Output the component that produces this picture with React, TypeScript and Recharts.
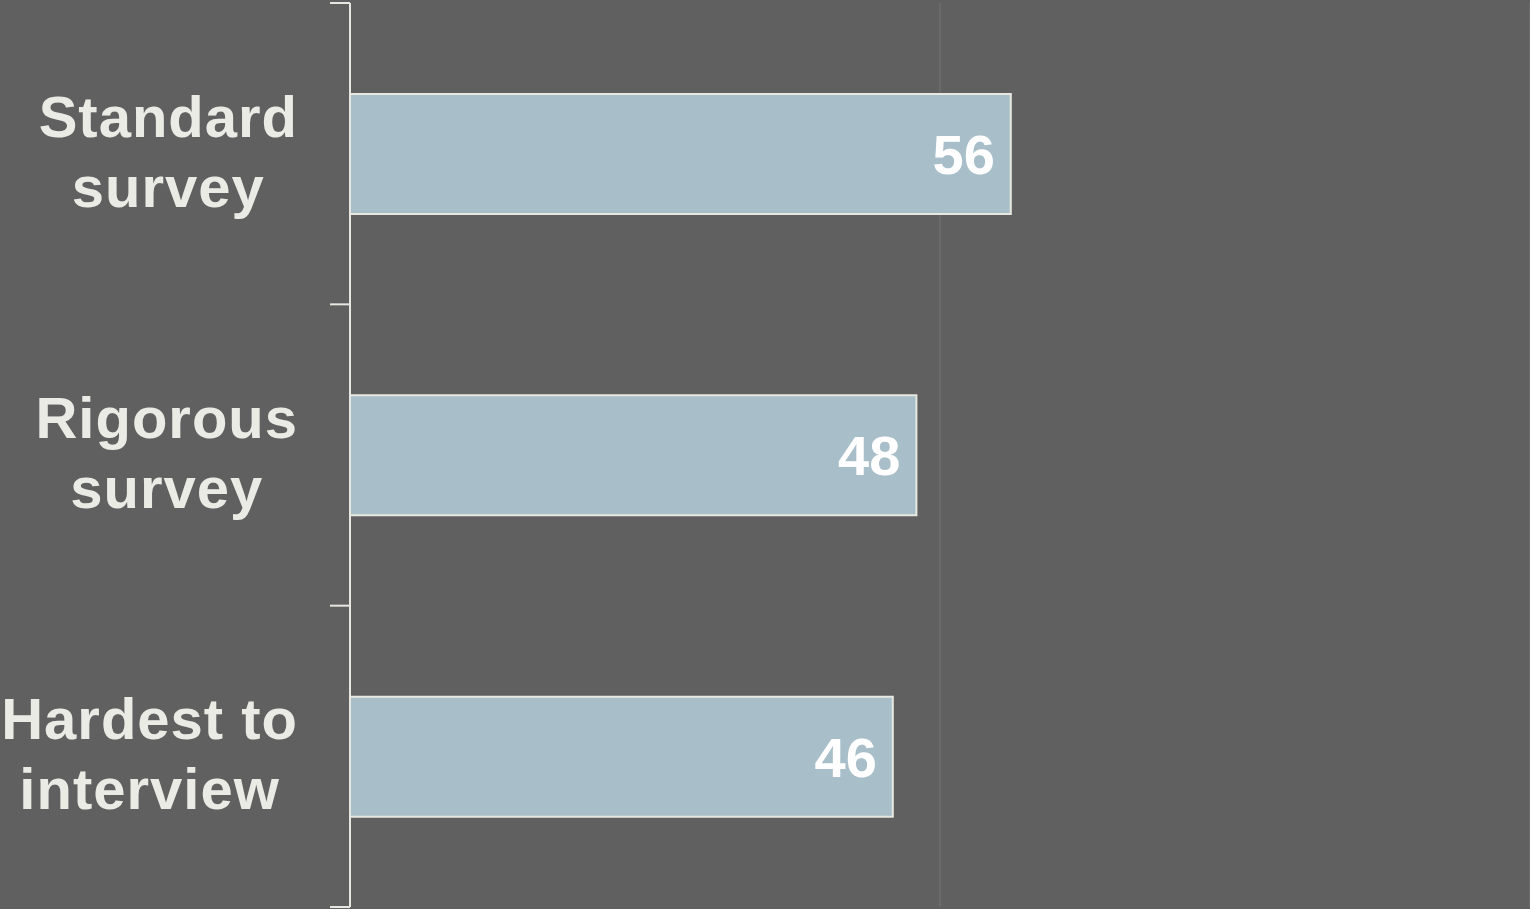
import React from 'react';
import { BarChart, Bar, XAxis, YAxis, CartesianGrid, LabelList } from 'recharts';

const categories = ['Standard survey', 'Rigorous survey', 'Hardest to interview'];
const labelLines = [['Standard', 'survey'], ['Rigorous', 'survey'], ['Hardest to', 'interview']];
const values = [56, 48, 46];
const xTicks = [0, 50, 100];

const W = 1530;
const H = 909;
const MARGIN = { top: 3, right: 0, bottom: 2, left: 0 };
const AXIS_W = 350;
const LABEL_FONT = 'bold 58px "Liberation Sans", Arial, sans-serif';

const data = categories.map((c, i) => ({ name: c, value: values[i], idx: i }));

// measure label width so each block is right-aligned with centered lines
let ctx: CanvasRenderingContext2D | null = null;
const measure = (s: string) => {
  if (!ctx) ctx = document.createElement('canvas').getContext('2d');
  if (!ctx) return s.length * 30;
  ctx.font = LABEL_FONT;
  return ctx.measureText(s).width + s.length * 1;
};

const CategoryTick = (props: any) => {
  const { x, y, index } = props;
  const ax = x + 8; // axis line position
  const band = (H - MARGIN.top - MARGIN.bottom) / categories.length;
  const lines = labelLines[index] || [];
  const top = y - band / 2;
  const bottom = y + band / 2;
  const blockW = Math.max(...lines.map(measure));
  const cx = ax - 52 - blockW / 2;
  return (
    <g>
      <line x1={ax - 20} x2={ax} y1={top} y2={top} stroke="#e8e6e0" strokeWidth={2} />
      {index === categories.length - 1 && (
        <line x1={ax - 20} x2={ax} y1={bottom} y2={bottom} stroke="#e8e6e0" strokeWidth={2} />
      )}
      <text
        x={cx}
        y={y}
        textAnchor="middle"
        fill="#ebebe6"
        fontSize={58}
        fontWeight="bold"
        letterSpacing={1}
        fontFamily="Liberation Sans, Arial, sans-serif"
      >
        {lines.map((l: string, i: number) => (
          <tspan key={i} x={cx} dy={i === 0 ? -17 : 70}>
            {l}
          </tspan>
        ))}
      </text>
    </g>
  );
};

export default function App() {
  return (
    <div style={{ position: 'fixed', left: 0, top: 0, width: W, height: H, background: '#606060' }}>
      <BarChart width={W} height={H} data={data} layout="vertical" margin={MARGIN}>
        <CartesianGrid horizontal={false} stroke="#747474" strokeWidth={1} />
        <XAxis type="number" domain={[0, 100]} ticks={xTicks} hide />
        <YAxis
          type="category"
          dataKey="name"
          width={AXIS_W}
          axisLine={{ stroke: '#e8e6e0', strokeWidth: 2 }}
          tickLine={false}
          tick={<CategoryTick />}
          interval={0}
        />
        <Bar
          dataKey="value"
          fill="#a8bfc9"
          stroke="#e8e8e0"
          strokeWidth={2}
          barSize={120}
          isAnimationActive={false}
        >
          <LabelList
            dataKey="value"
            position="insideRight"
            offset={16}
            fill="#ffffff"
            fontSize={56}
            fontWeight="bold"
            fontFamily="Liberation Sans, Arial, sans-serif"
          />
        </Bar>
      </BarChart>
    </div>
  );
}
